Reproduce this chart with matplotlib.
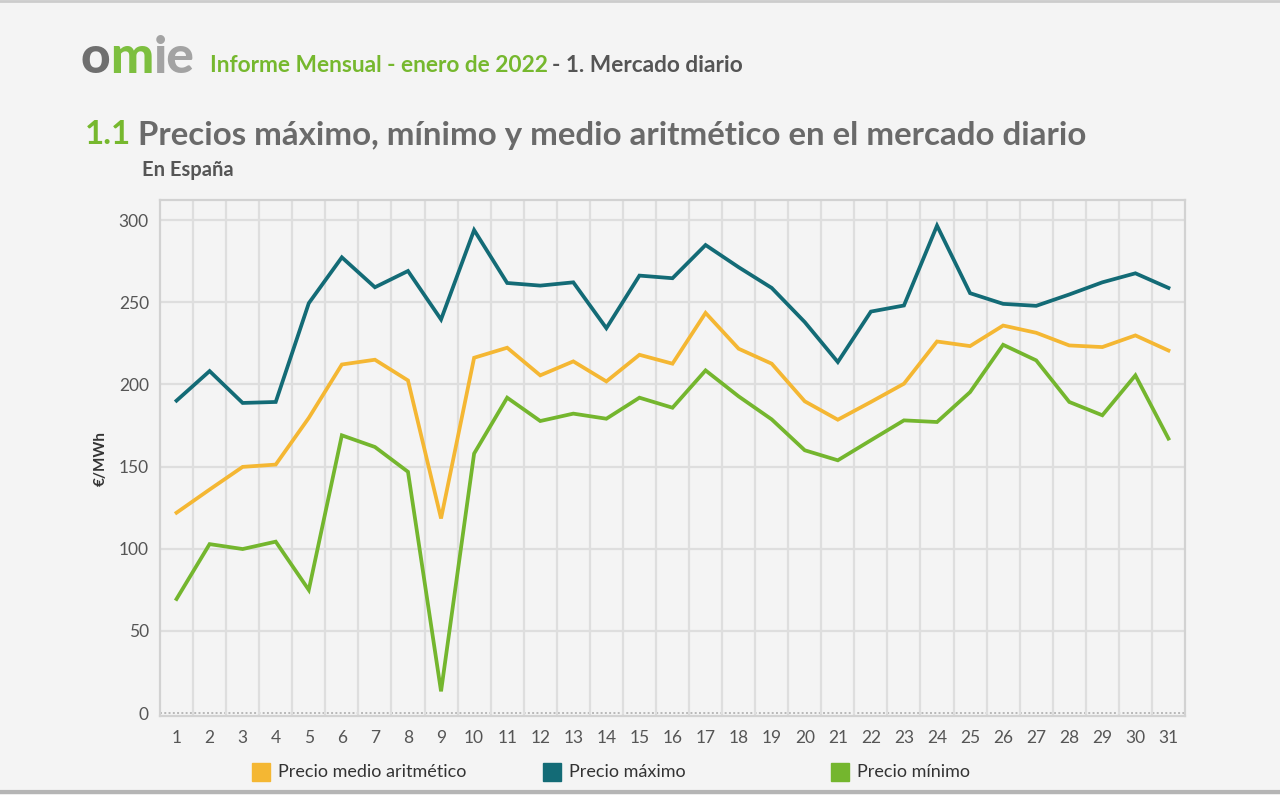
import matplotlib
matplotlib.use("Agg")
import matplotlib.pyplot as plt
from matplotlib.patches import Rectangle
from matplotlib.lines import Line2D

plt.rcParams['font.family'] = ['Lato', 'DejaVu Sans']

days = list(range(1, 32))
precio_maximo = [190.1, 208.1, 188.7, 189.3, 249.4, 277.3, 259.1, 269.0,
                 239.5, 293.9, 261.7, 260.1, 262.1, 234.2, 266.2, 264.6,
                 284.8, 271.3, 258.7, 237.9, 213.6, 244.3, 248.0, 296.6,
                 255.5, 249.0, 247.8, 254.7, 262.1, 267.6, 258.7]
precio_medio = [121.9, 136.0, 149.8, 151.2, 179.6, 212.1, 215.0, 202.4,
                118.4, 216.2, 222.3, 205.5, 214.0, 201.8, 218.0, 212.6,
                243.5, 221.7, 212.6, 189.7, 178.5, 189.3, 200.4, 226.1,
                223.3, 235.8, 231.4, 223.7, 222.7, 229.8, 220.6]
precio_minimo = [69.4, 102.8, 99.8, 104.3, 74.9, 169.0, 161.9, 146.8,
                 13.2, 157.9, 191.9, 177.7, 182.2, 179.1, 191.9, 185.8,
                 208.5, 192.7, 178.7, 159.9, 153.8, 166.0, 178.1, 177.1,
                 195.3, 224.1, 214.6, 189.3, 181.2, 205.5, 167.0]
yticks = [0, 50, 100, 150, 200, 250, 300]
series_labels = ["Precio medio aritmético", "Precio máximo", "Precio mínimo"]

C_MEAN = "#f4b733"
C_MAX = "#136b76"
C_MIN = "#74b62e"
BG = "#f4f4f4"
GRID = "#dedede"

W, H = 1280, 795
fig = plt.figure(figsize=(12.8, 7.95), dpi=100, facecolor=BG)
ax = fig.add_axes([160 / W, 1 - 716 / H, (1185 - 160) / W, (716 - 200) / H])
ax.set_facecolor(BG)

ax.set_xlim(0.5, 31.5)
ax.set_ylim(-1.8, 312.2)

# grid
for y in yticks[1:]:
    ax.axhline(y, color=GRID, lw=1.6, zorder=1)
ax.axhline(0, color="#b8b8b8", lw=1.4, ls=(0, (1, 1.2)), zorder=1)
for x in range(1, 31):
    ax.axvline(x + 0.5, color=GRID, lw=1.6, zorder=1)
for s in ax.spines.values():
    s.set_color("#d2d2d2")
    s.set_linewidth(1.6)

ax.plot(days, precio_maximo, color=C_MAX, lw=2.7, solid_joinstyle="miter", zorder=3)
ax.plot(days, precio_medio, color=C_MEAN, lw=2.7, solid_joinstyle="miter", zorder=3)
ax.plot(days, precio_minimo, color=C_MIN, lw=2.7, solid_joinstyle="miter", zorder=3)

ax.set_xticks(days)
ax.set_xticklabels([str(d) for d in days], fontsize=12.5, color="#555555")
ax.set_yticks(yticks)
ax.set_yticklabels([str(v) for v in yticks], fontsize=12.5, color="#555555")
ax.tick_params(axis="x", length=0, pad=10)
ax.tick_params(axis="y", length=0, pad=8)
ax.set_ylabel("€/MWh", fontsize=11, fontweight="bold", color="#333333", labelpad=8)

fig.canvas.draw()
r = fig.canvas.get_renderer()

# header logo
x = 80
for part, col in [("o", "#6f6f6f"), ("m", "#7dbf3f"), ("ie", "#a3a3a3")]:
    t = fig.text(x / W, 1 - 73 / H, part, fontsize=37, fontweight="black", color=col,
                 va="baseline", ha="left")
    x = t.get_window_extent(r).x1 + 0.5

t1 = fig.text(210 / W, 1 - 66 / H, "Informe Mensual - enero de 2022", fontsize=16.3,
              fontweight="bold", color="#76b82e", va="center", ha="left")
bb = t1.get_window_extent(r)
fig.text((bb.x1 + 4) / W, 1 - 66 / H, "- 1. Mercado diario", fontsize=16.3,
         fontweight="bold", color="#555555", va="center", ha="left")

t2 = fig.text(85 / W, 1 - 135 / H, "1.1", fontsize=23.8, fontweight="bold",
              color="#76b82e", va="center", ha="left")
bb = t2.get_window_extent(r)
fig.text((bb.x1 + 7) / W, 1 - 135 / H, "Precios máximo, mínimo y medio aritmético en el mercado diario",
         fontsize=23.8, fontweight="bold", color="#6a6a6a", va="center", ha="left")
fig.text(142 / W, 1 - 170 / H, "En España", fontsize=14.5, fontweight="bold",
         color="#555555", va="center", ha="left")

# legend
leg_items = [(252, C_MEAN, series_labels[0]), (543, C_MAX, series_labels[1]), (831, C_MIN, series_labels[2])]
for x0, c, lab in leg_items:
    fig.patches.append(Rectangle((x0 / W, 1 - 781 / H), 18 / W, 18 / H, color=c,
                                 transform=fig.transFigure, figure=fig))
    fig.text((x0 + 26) / W, 1 - 772 / H, lab, fontsize=13, color="#333333", va="center", ha="left")

# frame lines
fig.lines.append(Line2D([0, 1], [1 - 1 / H, 1 - 1 / H], color="#cccccc", lw=2, transform=fig.transFigure))
fig.lines.append(Line2D([0, 1], [1 - 792 / H, 1 - 792 / H], color="#b5b5b5", lw=3, transform=fig.transFigure))

fig.savefig("out.png", dpi=100, facecolor=BG)
